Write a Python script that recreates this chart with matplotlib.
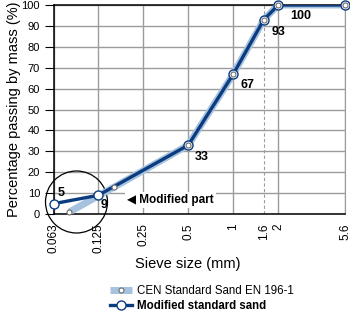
import matplotlib
matplotlib.use("Agg")
import matplotlib.pyplot as plt
from matplotlib.patches import Circle
from matplotlib.ticker import FixedLocator, FixedFormatter, NullLocator

plt.rcParams["font.family"] = ["Liberation Sans", "DejaVu Sans"]

# sieve sizes (mm) and percentage passing
cen_sizes = [0.08, 0.16, 0.5, 1.0, 1.6, 2.0, 5.6]
cen_pass = [1, 13, 33, 67, 93, 100, 100]
mod_sizes = [0.063, 0.125, 0.5, 1.0, 1.6, 2.0, 5.6]
mod_pass = [5, 9, 33, 67, 93, 100, 100]

tick_sizes = [0.063, 0.125, 0.25, 0.5, 1, 1.6, 2, 5.6]
tick_labels = ["0.063", "0.125", "0.25", "0.5", "1", "1.6", "2", "5.6"]

# value labels: (x, y, text, offset in pixels)
value_labels = [
    (0.063, 5, "5", (7, 11)),
    (0.125, 9, "9", (6, -10)),
    (0.5, 33, "33", (13, -12)),
    (1.0, 67, "67", (14, -11)),
    (1.6, 93, "93", (15, -12)),
    (2.0, 100, "100", (22, -11)),
]

light = "#a6c2df"
dark = "#0c3c80"

fig = plt.figure(figsize=(3.5, 3.13), dpi=100)
ax = fig.add_axes([0.154, 0.316, 0.832, 0.668])
ax.set_xscale("log")
ax.set_xlim(0.063, 5.6)
ax.set_ylim(0, 100)

ax.xaxis.set_major_locator(FixedLocator(tick_sizes))
ax.xaxis.set_major_formatter(FixedFormatter(tick_labels))
ax.xaxis.set_minor_locator(NullLocator())
ax.set_yticks(range(0, 101, 10))

ax.grid(True, color="#9c9c9c", linewidth=1.0)
ax.xaxis.get_gridlines()[tick_sizes.index(1.6)].set_linestyle((0, (3, 2)))
ax.xaxis.get_gridlines()[tick_sizes.index(1.6)].set_linewidth(0.8)
ax.set_axisbelow(True)

ax.tick_params(axis="x", length=0, pad=6.5, labelsize=8.5, labelrotation=90)
ax.tick_params(axis="y", length=6.5, width=0.8, pad=3.5, labelsize=8)
for lab in ax.get_xticklabels():
    lab.set_bbox(dict(facecolor="white", edgecolor="none", pad=1.5))

for side in ["left", "bottom", "top"]:
    ax.spines[side].set_color("black")
    ax.spines[side].set_linewidth(1.1)
ax.spines["right"].set_color("#9c9c9c")

# lines
ax.plot(cen_sizes, cen_pass, color=light, linewidth=5, zorder=3,
        solid_capstyle="butt")
ax.plot(mod_sizes, mod_pass, color=dark, linewidth=2.4, zorder=4)
ax.plot(mod_sizes, mod_pass, linestyle="none", marker="o", markersize=6.5,
        markerfacecolor="white", markeredgecolor=dark, markeredgewidth=1.0,
        zorder=5, clip_on=False)
ax.plot(cen_sizes, cen_pass, linestyle="none", marker="o", markersize=3.6,
        markerfacecolor="white", markeredgecolor="#6d6d6d", markeredgewidth=0.8,
        zorder=6, clip_on=False)

for x, y, txt, off in value_labels:
    ax.annotate(txt, (x, y), xytext=off, textcoords="offset pixels",
                ha="center", va="center", fontsize=9, fontweight="bold", zorder=7)

ax.text(0.195, 6.7, "\u25c0 Modified part", fontsize=8.5, fontweight="bold",
        ha="left", va="center", zorder=7,
        bbox=dict(facecolor="white", edgecolor="none", pad=1.5))

# circle marking the modified part
ring = Circle((0.765, 1.11), 0.31, transform=fig.dpi_scale_trans, fill=False,
              edgecolor="black", linewidth=0.9, clip_on=False, zorder=2)
ax.add_patch(ring)

ax.set_xlabel("Sieve size (mm)", fontsize=10.5)
ax.xaxis.set_label_coords((188 - 54) / 291, -(257 - 214) / 209)
ax.set_ylabel("Percentage passing by mass (%)", fontsize=10.5)
ax.yaxis.set_label_coords(-(54 - 21) / 291, 0.5)

cen_handle, = ax.plot([], [], color=light, linewidth=5, marker="o", markersize=3.6,
                      markerfacecolor="white", markeredgecolor="#6d6d6d",
                      markeredgewidth=0.8, solid_capstyle="butt")
mod_handle, = ax.plot([], [], color=dark, linewidth=2.4, marker="o", markersize=6.5,
                      markerfacecolor="white", markeredgecolor=dark,
                      markeredgewidth=1.0)
leg = fig.legend([cen_handle, mod_handle],
                 ["CEN Standard Sand EN 196-1", "Modified standard sand"],
                 loc="upper left", bbox_to_anchor=(110 / 350, 1 - 285 / 313),
                 frameon=False, fontsize=8.3, handlelength=1.9, handletextpad=0.4,
                 labelspacing=0.3, borderpad=0, borderaxespad=0)
leg.get_texts()[1].set_fontweight("bold")

fig.savefig("out.png", dpi=100)
